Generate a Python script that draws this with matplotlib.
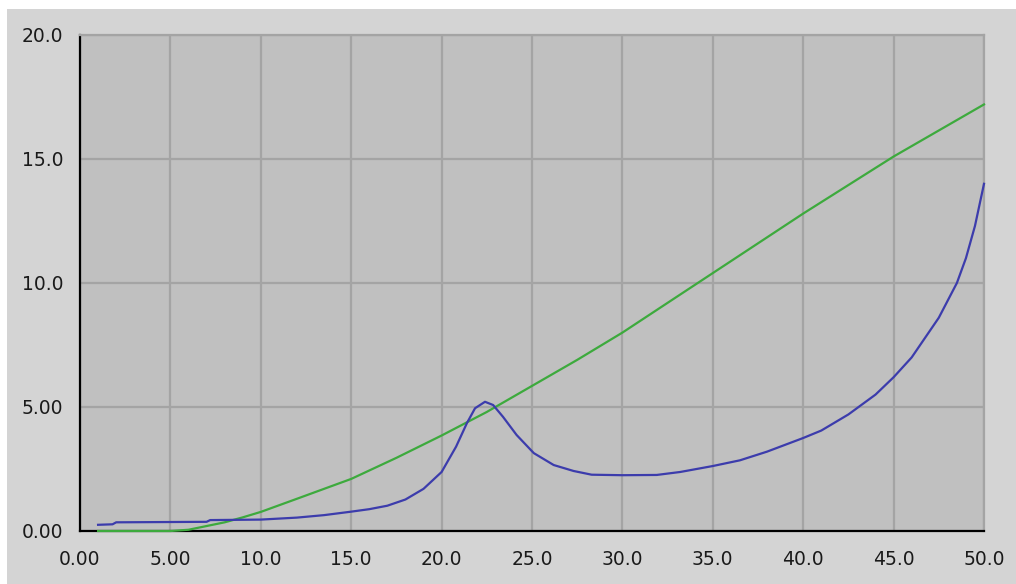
import matplotlib
matplotlib.use("Agg")
import matplotlib.pyplot as plt
from matplotlib.patches import Rectangle

# ---- data ----
green_x = [1, 5, 6, 7, 8, 9, 10, 12, 15, 17.5, 20, 22.5, 25, 27.5, 30, 35, 40, 45, 50]
green_y = [0, 0, 0.05, 0.2, 0.35, 0.55, 0.77, 1.3, 2.1, 2.95, 3.85, 4.8, 5.85, 6.9, 8.0, 10.4, 12.8, 15.1, 17.2]

blue_x = [1, 1.8, 2, 7, 7.2, 10, 12, 13.5, 15, 16, 17, 18, 19, 20, 20.8, 21.4, 21.85, 22.4,
          22.85, 23.4, 24.15, 25.1, 26.2, 27.3, 28.3, 30, 31.9, 33.2, 35, 36.5, 38, 40, 41,
          42.5, 44, 45, 46, 47.5, 48.5, 49, 49.5, 50]
blue_y = [0.25, 0.27, 0.35, 0.37, 0.44, 0.46, 0.54, 0.64, 0.78, 0.88, 1.02, 1.27, 1.7, 2.38, 3.4,
          4.35, 4.95, 5.21, 5.08, 4.6, 3.87, 3.14, 2.66, 2.42, 2.27, 2.25, 2.26, 2.38, 2.62,
          2.85, 3.2, 3.75, 4.05, 4.7, 5.5, 6.2, 7.0, 8.6, 10.0, 11.0, 12.3, 14.0]

x_ticks = [0, 5, 10, 15, 20, 25, 30, 35, 40, 45, 50]
x_labels = ["0.00", "5.00", "10.0", "15.0", "20.0", "25.0", "30.0", "35.0", "40.0", "45.0", "50.0"]
y_ticks = [0, 5, 10, 15, 20]
y_labels = ["0.00", "5.00", "10.0", "15.0", "20.0"]

W, H = 1016, 584
fig = plt.figure(figsize=(W / 100, H / 100), dpi=100, facecolor="white")
bg = Rectangle((7 / W, 0), 1 - 7 / W, 1 - 9 / H, transform=fig.transFigure,
               facecolor="#d4d4d4", edgecolor="none", zorder=-10)
fig.add_artist(bg)

ax = fig.add_axes([80 / W, (H - 531) / H, (984 - 80) / W, (531 - 35) / H])
ax.set_zorder(5)
ax.set_facecolor("#c0c0c0")
ax.set_xlim(0, 50)
ax.set_ylim(0, 20)
ax.set_xticks(x_ticks)
ax.set_xticklabels(x_labels)
ax.set_yticks(y_ticks)
ax.set_yticklabels(y_labels)
ax.grid(True, color="#a4a4a4", linewidth=1.6, zorder=1)
ax.set_axisbelow(True)
ax.tick_params(length=0, labelsize=13.5, labelcolor="#1a1a1a")
ax.tick_params(axis="x", pad=13.5)
ax.tick_params(axis="y", pad=12)
for lab in ax.get_xticklabels() + ax.get_yticklabels():
    lab.set_fontweight("medium")

for s in ["top", "right"]:
    ax.spines[s].set_color("#a4a4a4")
    ax.spines[s].set_linewidth(1.6)
for s in ["left", "bottom"]:
    ax.spines[s].set_color("black")
    ax.spines[s].set_linewidth(1.6)

ax.plot(green_x, green_y, color="#3daa3d", linewidth=1.6, zorder=3, clip_on=False)
ax.plot(blue_x, blue_y, color="#3c3cac", linewidth=1.6, zorder=3, clip_on=False)

fig.savefig("out.png", dpi=100, facecolor=fig.get_facecolor())
